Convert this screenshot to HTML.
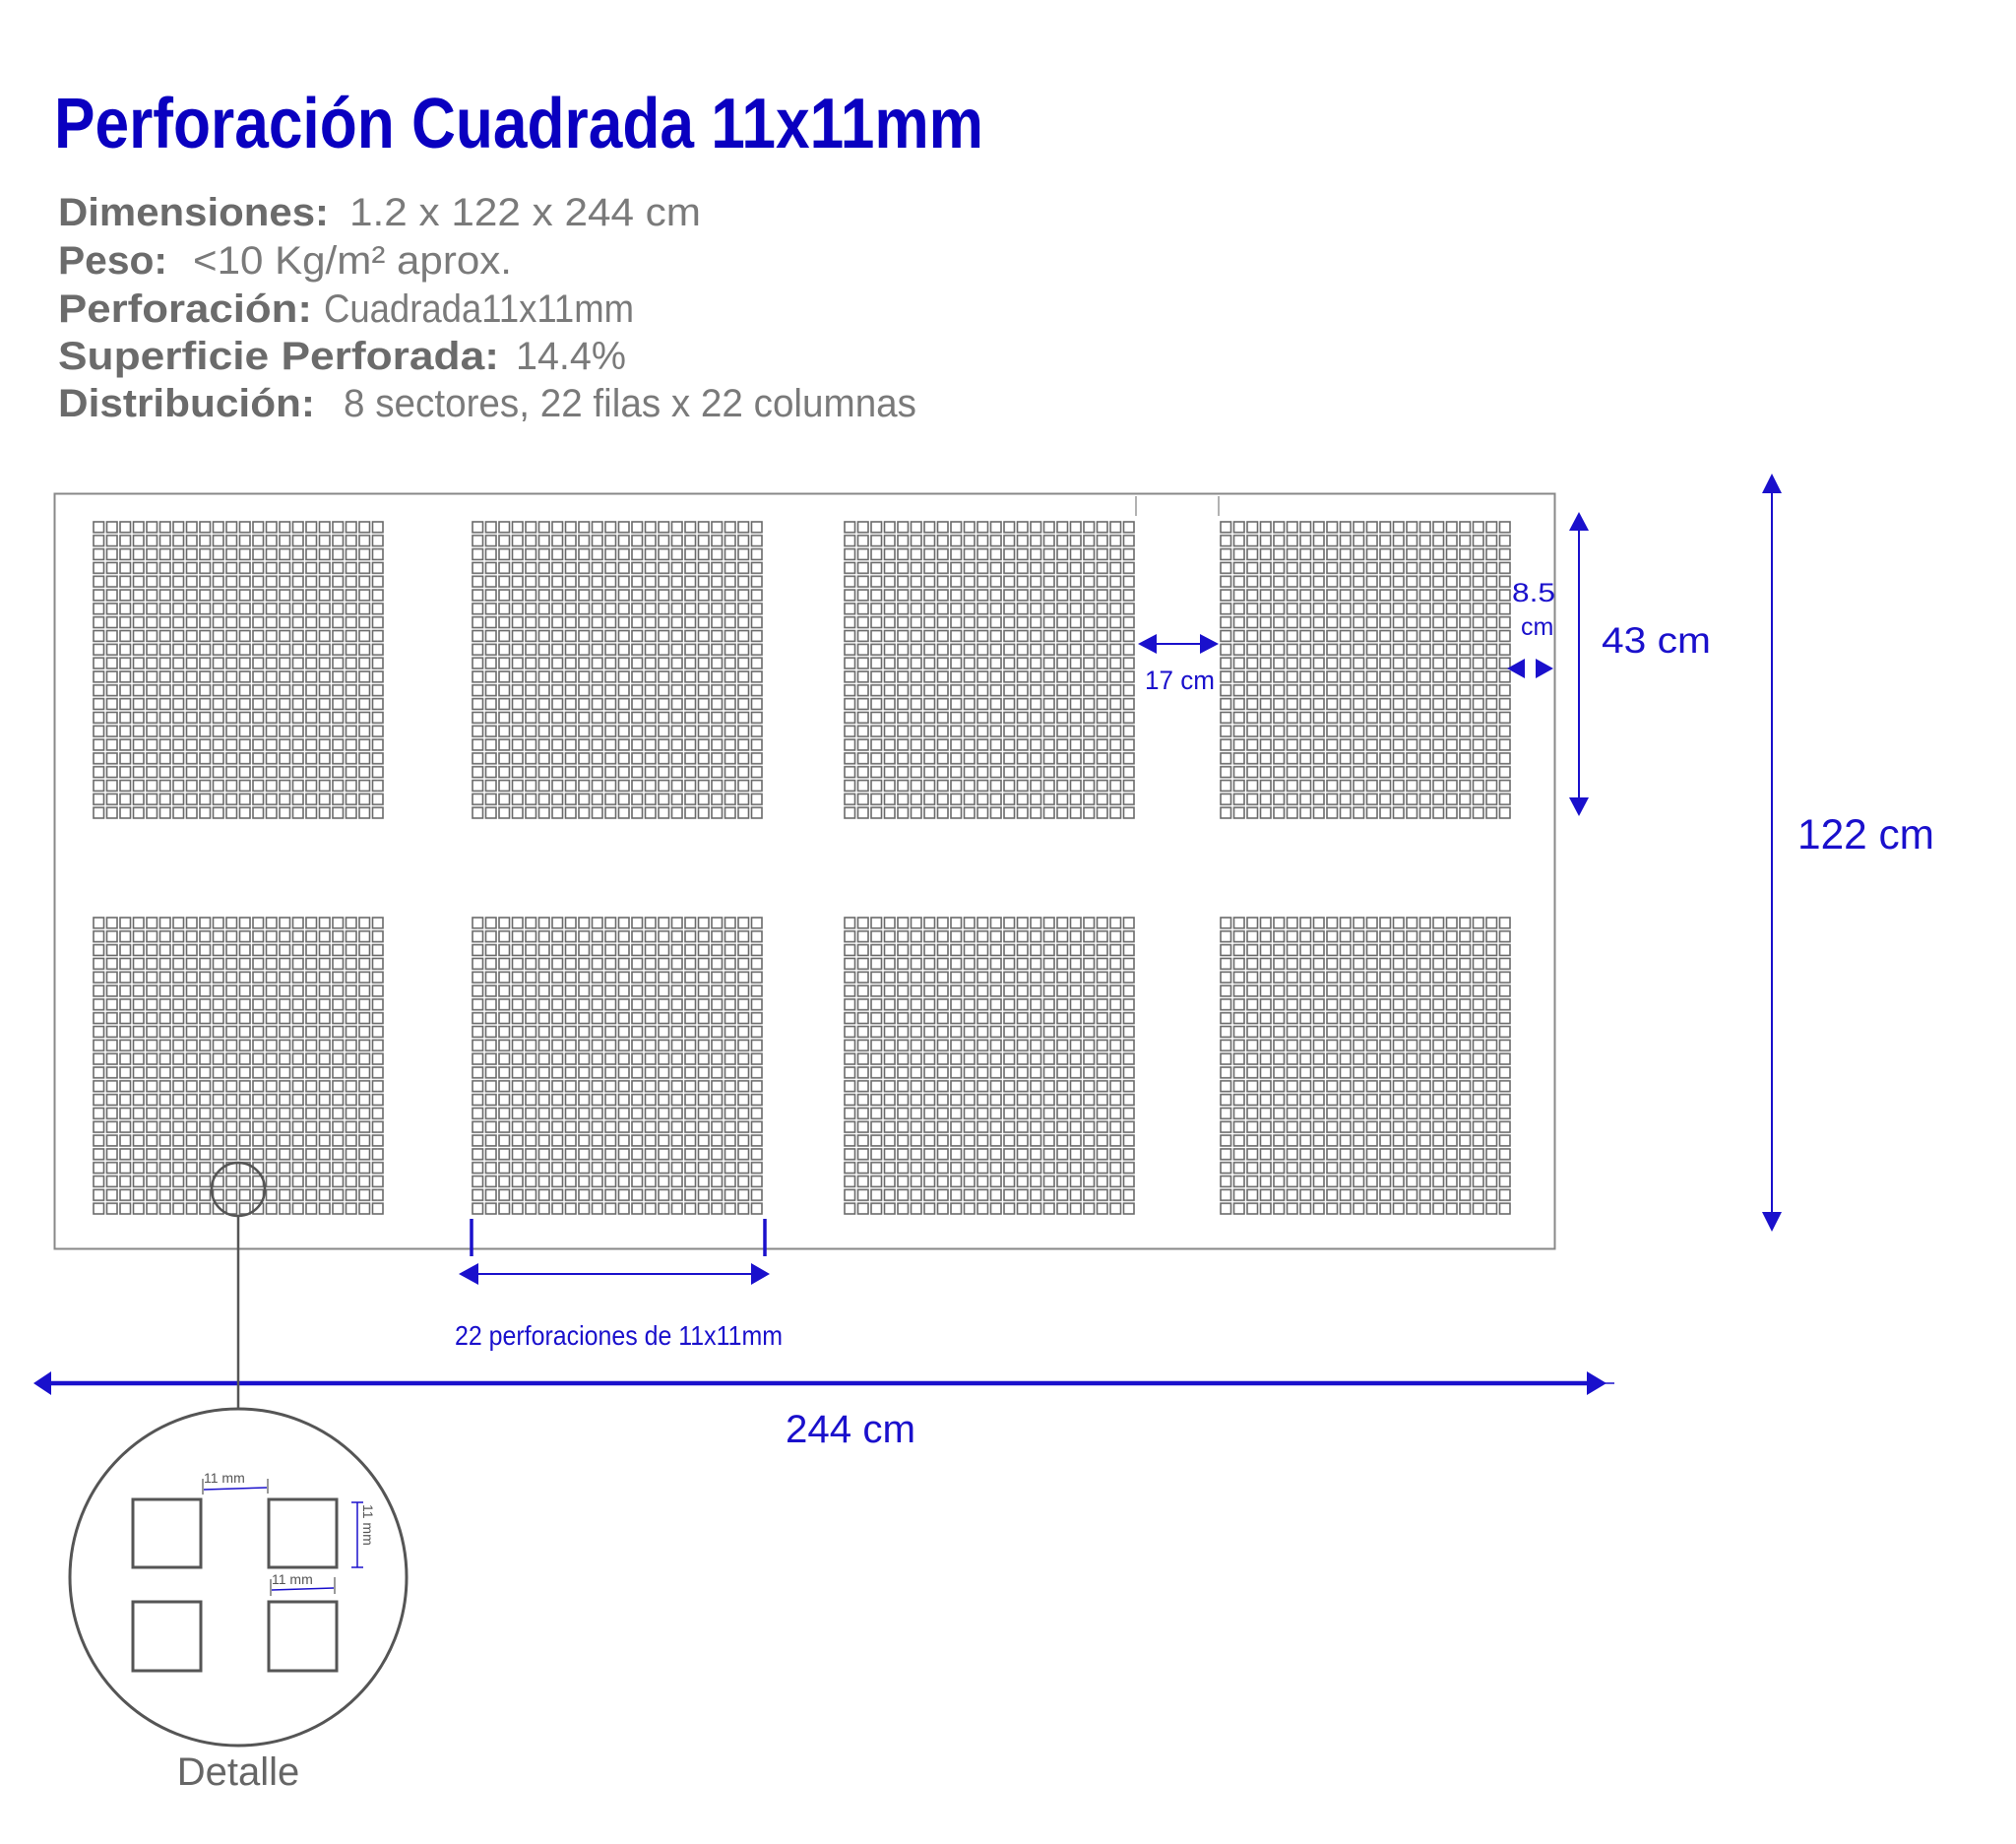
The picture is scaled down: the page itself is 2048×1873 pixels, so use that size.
<!DOCTYPE html>
<html><head><meta charset="utf-8"><style>
html,body{margin:0;padding:0;background:#fff;}
svg{display:block;}
text{font-family:"Liberation Sans",sans-serif;}
</style></head><body>
<svg width="2048" height="1873" viewBox="0 0 2048 1873" xmlns="http://www.w3.org/2000/svg">
<defs>
<pattern id="g" x="0" y="0" width="13.5" height="13.82" patternUnits="userSpaceOnUse">
<rect x="1" y="1" width="10.5" height="10.8" fill="none" stroke="#6a6a6a" stroke-width="1.6"/>
</pattern>
</defs>
<text x="55" y="150" font-size="72" font-weight="bold" fill="#0a00c0" textLength="944" lengthAdjust="spacingAndGlyphs">Perforación Cuadrada 11x11mm</text>
<g font-size="40" fill="#6b6b6b">
<text x="59" y="229" font-weight="bold" textLength="275" lengthAdjust="spacingAndGlyphs">Dimensiones:</text>
<text x="355" y="229" fill="#7a7a7a" textLength="357" lengthAdjust="spacingAndGlyphs">1.2 x 122 x 244 cm</text>
<text x="59" y="278" font-weight="bold" textLength="111" lengthAdjust="spacingAndGlyphs">Peso:</text>
<text x="196" y="278" fill="#7a7a7a" textLength="324" lengthAdjust="spacingAndGlyphs">&lt;10 Kg/m² aprox.</text>
<text x="59" y="327" font-weight="bold" textLength="258" lengthAdjust="spacingAndGlyphs">Perforación:</text>
<text x="329" y="327" fill="#7a7a7a" textLength="315" lengthAdjust="spacingAndGlyphs">Cuadrada11x11mm</text>
<text x="59" y="375" font-weight="bold" textLength="448" lengthAdjust="spacingAndGlyphs">Superficie Perforada:</text>
<text x="524" y="375" fill="#7a7a7a" textLength="112" lengthAdjust="spacingAndGlyphs">14.4%</text>
<text x="59" y="423" font-weight="bold" textLength="261" lengthAdjust="spacingAndGlyphs">Distribución:</text>
<text x="349" y="423" fill="#7a7a7a" textLength="582" lengthAdjust="spacingAndGlyphs">8 sectores, 22 filas x 22 columnas</text>
</g>
<rect x="55.5" y="501.5" width="1524" height="767" fill="none" stroke="#888" stroke-width="2"/>
<g>
<g transform="translate(94,529)"><rect width="297" height="304" fill="url(#g)"/></g>
<g transform="translate(479,529)"><rect width="297" height="304" fill="url(#g)"/></g>
<g transform="translate(857,529)"><rect width="297" height="304" fill="url(#g)"/></g>
<g transform="translate(1239,529)"><rect width="297" height="304" fill="url(#g)"/></g>
<g transform="translate(94,931)"><rect width="297" height="304" fill="url(#g)"/></g>
<g transform="translate(479,931)"><rect width="297" height="304" fill="url(#g)"/></g>
<g transform="translate(857,931)"><rect width="297" height="304" fill="url(#g)"/></g>
<g transform="translate(1239,931)"><rect width="297" height="304" fill="url(#g)"/></g>
</g>
<line x1="1154" y1="504" x2="1154" y2="524" stroke="#999" stroke-width="1.5"/>
<line x1="1238" y1="504" x2="1238" y2="524" stroke="#999" stroke-width="1.5"/>
<g fill="#1a10cc" stroke="none">
<line x1="1168" y1="654" x2="1226" y2="654" stroke="#1a10cc" stroke-width="2"/>
<polygon points="1156,654 1175,644 1175,664"/>
<polygon points="1238,654 1219,644 1219,664"/>
<text x="1163" y="700" font-size="27" textLength="71" lengthAdjust="spacingAndGlyphs">17 cm</text>
<text x="1536" y="611" font-size="27" textLength="44" lengthAdjust="spacingAndGlyphs">8.5</text>
<text x="1545" y="645" font-size="25">cm</text>
<polygon points="1531,679 1549,669 1549,689"/>
<polygon points="1578,679 1560,669 1560,689"/>
<line x1="1604" y1="530" x2="1604" y2="818" stroke="#1a10cc" stroke-width="2"/>
<polygon points="1604,520 1594,539 1614,539"/>
<polygon points="1604,829 1594,810 1614,810"/>
<text x="1627" y="663" font-size="37" textLength="111" lengthAdjust="spacingAndGlyphs">43 cm</text>
<line x1="1800" y1="492" x2="1800" y2="1240" stroke="#1a10cc" stroke-width="2"/>
<polygon points="1800,481 1790,501 1810,501"/>
<polygon points="1800,1251 1790,1231 1810,1231"/>
<text x="1826" y="862" font-size="43" textLength="139" lengthAdjust="spacingAndGlyphs">122 cm</text>
<line x1="479" y1="1238" x2="479" y2="1276" stroke="#1a10cc" stroke-width="3.5"/>
<line x1="777" y1="1238" x2="777" y2="1276" stroke="#1a10cc" stroke-width="3.5"/>
<line x1="478" y1="1294" x2="770" y2="1294" stroke="#1a10cc" stroke-width="2"/>
<polygon points="466,1294 486,1283 486,1305"/>
<polygon points="782,1294 763,1283 763,1305"/>
<text x="462" y="1366" font-size="28" textLength="333" lengthAdjust="spacingAndGlyphs">22 perforaciones de 11x11mm</text>
<line x1="45" y1="1405" x2="1625" y2="1405" stroke="#1a10cc" stroke-width="4.5"/>
<polygon points="34,1405 52,1393 52,1417"/>
<polygon points="1632,1405 1612,1393 1612,1417"/>
<line x1="1625" y1="1405" x2="1640" y2="1405" stroke="#1a10cc" stroke-width="1.5"/>
<text x="798" y="1465" font-size="40" textLength="132" lengthAdjust="spacingAndGlyphs">244 cm</text>
</g>
<circle cx="242" cy="1208" r="27" fill="none" stroke="#555" stroke-width="2.5"/>
<line x1="242" y1="1235" x2="242" y2="1431" stroke="#555" stroke-width="2.5"/>
<circle cx="242" cy="1602" r="171" fill="none" stroke="#555" stroke-width="3"/>
<g fill="none" stroke="#555" stroke-width="3">
<rect x="135" y="1523" width="69" height="69"/>
<rect x="273" y="1523" width="69" height="69"/>
<rect x="135" y="1627" width="69" height="70"/>
<rect x="273" y="1627" width="69" height="70"/>
</g>
<g stroke="#1a10cc" stroke-width="1.5" fill="#1a10cc">
<line x1="207" y1="1513" x2="271" y2="1511"/>
<line x1="206" y1="1502" x2="206" y2="1518" stroke="#777"/>
<line x1="272" y1="1502" x2="272" y2="1517" stroke="#777"/>
<line x1="363" y1="1526" x2="363" y2="1592"/>
<line x1="357" y1="1526" x2="369" y2="1526"/>
<line x1="357" y1="1592" x2="369" y2="1592"/>
<line x1="276" y1="1615" x2="339" y2="1613"/>
<line x1="275" y1="1604" x2="275" y2="1621" stroke="#777"/>
<line x1="340" y1="1602" x2="340" y2="1619" stroke="#777"/>
</g>
<g fill="#555" font-size="14">
<text x="207" y="1506">11 mm</text>
<text x="276" y="1609">11 mm</text>
<text x="369" y="1528" transform="rotate(90 369 1528)">11 mm</text>
</g>
<text x="242" y="1813" font-size="40" fill="#666" text-anchor="middle">Detalle</text>
</svg>
</body></html>
